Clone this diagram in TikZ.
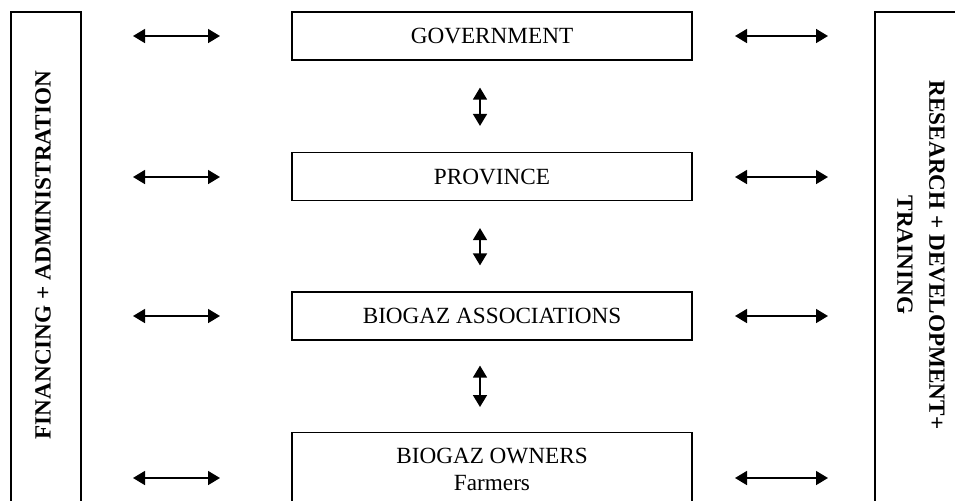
\documentclass[tikz,border=0pt]{standalone}
\usepackage{fontspec}
\setmainfont{Liberation Serif}
\usetikzlibrary{arrows.meta}
\tikzset{
  level/.style={draw, line width=.6pt, minimum width=200pt, minimum height=24pt, inner sep=0pt, font=\fontsize{11.6}{13.5}\selectfont},
  side/.style={font=\bfseries\fontsize{11.6}{16}\selectfont, align=center},
  dbl/.style={line width=.8pt, {Triangle[length=6pt,width=7pt]}-{Triangle[length=6pt,width=7pt]}}
}
\begin{document}
\begin{tikzpicture}[x=.5pt, y=-.5pt]
      \useasboundingbox (0, 0) rectangle (955, 500);
      \clip (0, 0) rectangle (955, 500);
      %%side frames
      \draw[line width = .6pt](11, 520) -- (11, 12) -- (81, 12) -- (81, 520);
      \draw[line width = .6pt](875, 520) -- (875, 12) -- (970, 12);
      \node[side, rotate=90] (fin) at (43, 255){FINANCING + ADMINISTRATION};
      \node[side, rotate=-90] (res) at (921, 255){RESEARCH + DEVELOPMENT+\\TRAINING};
      %%levels
      \node[level] (gov) at (492, 36){GOVERNMENT};
      \node[level] (prov) at (492, 176.5){PROVINCE};
      \node[level] (assoc) at (492, 316){BIOGAZ ASSOCIATIONS};
      \node[level, anchor=north, align=center, inner ysep=8pt] (own) at (492, 432){BIOGAZ OWNERS\\Farmers};
      %%vertical links
      \draw[dbl, shorten <=13.5pt, shorten >=13pt]([xshift=-6pt]gov.south) to ([xshift=-6pt]prov.north);
      \draw[dbl, shorten <=13.5pt, shorten >=13pt]([xshift=-6pt]prov.south) to ([xshift=-6pt]assoc.north);
      \draw[dbl, shorten <=12.5pt, shorten >=12.5pt]([xshift=-6pt]assoc.south) to ([xshift=-6pt]own.north);
      %%side links
      \foreach \n/\y in {gov/36, prov/177, assoc/316, own/478}{
        \coordinate (l1-\n) at (133, \y);
        \coordinate (l2-\n) at (220, \y);
        \coordinate (r1-\n) at (735, \y);
        \coordinate (r2-\n) at (828, \y);
        \draw[dbl](l1-\n) to (l2-\n);
        \draw[dbl](r1-\n) to (r2-\n);
      }
\end{tikzpicture}
\end{document}
